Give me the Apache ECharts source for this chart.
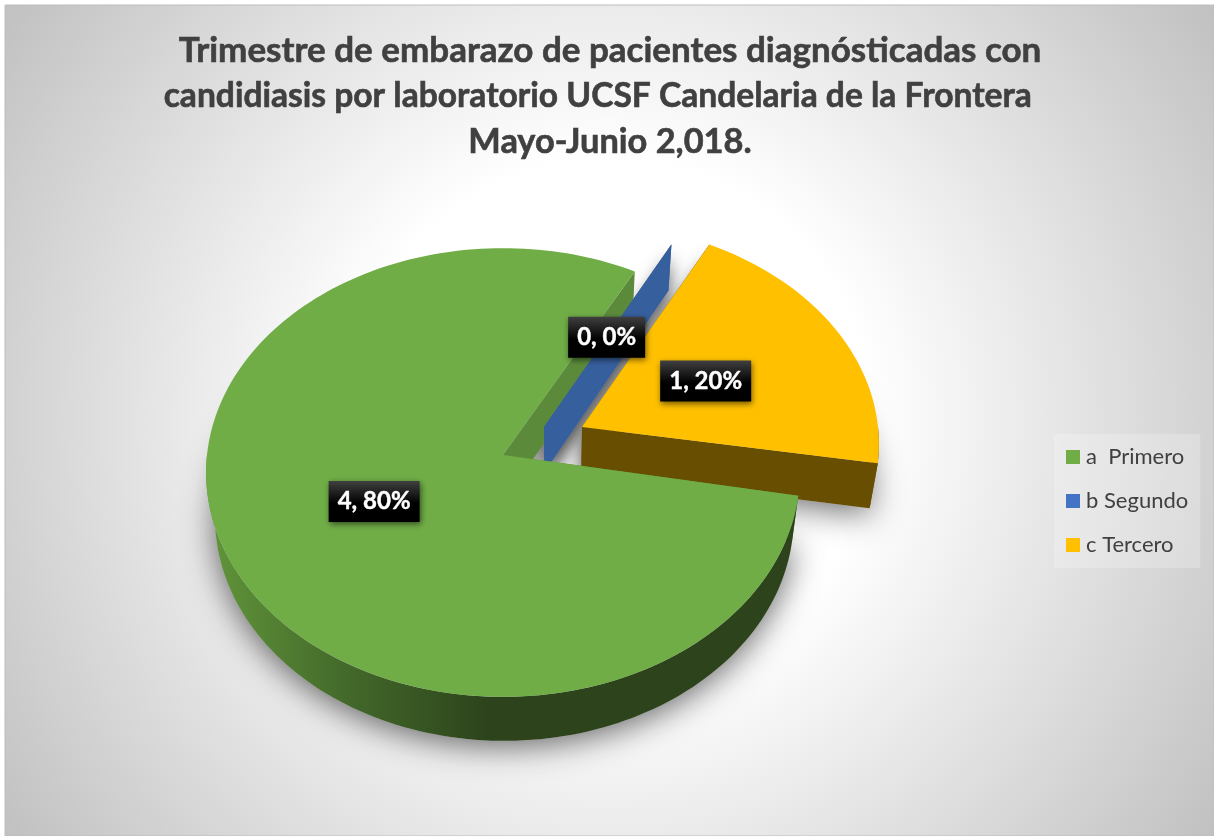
<!DOCTYPE html>
<html>
<head>
<meta charset="utf-8">
<style>html,body{margin:0;padding:0;background:#fff}#chart{width:1214px;height:836px}</style>
<script src="https://cdn.jsdelivr.net/npm/echarts@6/dist/echarts.min.js"></script>
</head>
<body>
<div id="chart"></div>
<script>
const titleLines = [
  'Trimestre de embarazo de pacientes diagnósticadas con',
  'candidiasis por laboratorio UCSF Candelaria de la Frontera   ',
  'Mayo-Junio 2,018.'
];
const categories = ['a  Primero', 'b Segundo', 'c Tercero'];
const values = [4, 0, 1];

// Face and wall colours per slice
const faceColors = ['#70AD47', '#4472C4', '#FFC000'];
const wallColors = ['#5B8B3A', '#365F9E', '#674E00'];

// Where each exploded slice sits on the page (apex of its wedge), with a small per-slice adjustment
const sliceLayout = [
  { apex: [503, 455], turn: 0.4, depth: 1 },
  { apex: [544, 427], turn: -0.6, depth: 0.985 },
  { apex: [582, 427], turn: -0.6, depth: 0.985 }
];

const FIRST_ANGLE = 100;      // clockwise from 12 o'clock
const RADIUS_X = 296, RADIUS_Y = 223, PERSPECTIVE = 0.078;
const THICKNESS = 46, CONVERGE = 0.0254, VANISH_X = 555;
const LABEL_RADIUS = 0.475;
const FONT = 'Lato, "Open Sans", sans-serif';

const total = values.reduce((a, b) => a + b, 0);
const startAngles = [];
values.reduce((acc, v, i) => { startAngles[i] = acc; return acc + v / total * 360; }, FIRST_ANGLE);

// Tilted disc with mild perspective: nearer points spread further
function project(i, deg, r, down) {
  const L = sliceLayout[i];
  const t = (deg + L.turn) * Math.PI / 180;
  const X = Math.sin(t) * r, Y = -Math.cos(t) * r;
  const s = 1 / (1 - PERSPECTIVE * Y);
  let x = L.apex[0] + RADIUS_X * X * s;
  let y = L.apex[1] + RADIUS_Y * L.depth * Y * s;
  if (down) {
    const h = THICKNESS - 2 * (y - 246) / 450;
    x -= CONVERGE * (x - VANISH_X);
    y += h;
  }
  return [x, y];
}

function arc(i, from, to, down) {
  const pts = [];
  const n = Math.max(1, Math.ceil(Math.abs(to - from) / 1.5));
  for (let k = 0; k <= n; k++) pts.push(project(i, from + (to - from) * k / n, 1, down));
  return pts;
}

const textMeasure = document.createElement('canvas').getContext('2d');
textMeasure.font = 'bold 24px ' + FONT;

function poly(points, fill, z2, extra) {
  return { type: 'polygon', z2, shape: { points }, style: Object.assign({ fill }, extra || {}) };
}

function renderSlice(params, api) {
  const i = params.seriesIndex;
  const value = api.value(0);
  const a0 = startAngles[i] % 360;
  const a1 = a0 + value / total * 360;
  const apexTop = project(i, a0, 0, false);
  const apexLow = project(i, a0, 0, true);
  const topArc = arc(i, a0, a1, false);
  const lowArc = arc(i, a0, a1, true);
  const isGreen = i === 0, isBlue = i === 1;
  const base = isGreen ? 50 : (isBlue ? 30 : 10);
  const shadow = {
    shadowBlur: 32, shadowColor: 'rgba(0,0,0,0.58)', shadowOffsetX: 0, shadowOffsetY: 6
  };
  const gapShadow = {
    shadowBlur: 16, shadowColor: 'rgba(0,0,0,0.62)', shadowOffsetX: 0, shadowOffsetY: 12
  };
  const children = [];

  // radial walls
  const endWall = [apexTop, topArc[topArc.length - 1], lowArc[lowArc.length - 1], apexLow];
  const startWall = [apexTop, topArc[0], lowArc[0], apexLow];

  // soft drop shadow underneath the slice; the walls facing the gap cast a tighter one
  if (!isBlue) children.push(poly([apexLow].concat(lowArc), '#c4c4c4', 1, shadow));
  if (!isGreen) children.push(poly(startWall, '#c4c4c4', 1, gapShadow));

  children.push(poly(endWall, wallColors[i], isGreen ? 20 : base));
  children.push(poly(startWall, wallColors[i], base));

  if (!isBlue) {
    // curved outer wall, front half only; the lit side fades into shade on the green slice
    const wallFill = isGreen
      ? { type: 'linear', x: 216, y: 0, x2: 490, y2: 0, global: true,
          colorStops: [{ offset: 0, color: '#5F9339' }, { offset: 0.5, color: '#42672A' }, { offset: 1, color: '#2C431B' }] }
      : wallColors[i];
    const from = Math.max(a0, 90), to = Math.min(a1, 270);
    children.push(poly(arc(i, from, to, false).concat(arc(i, from, to, true).reverse()), wallFill, base + 1));
    children.push(poly([apexTop].concat(topArc), faceColors[i], base + 2));
  }

  // value label
  const mid = (a0 + a1) / 2;
  const c = project(i, mid, LABEL_RADIUS, false);
  const text = value + ', ' + Math.round(value / total * 100) + '%';
  const w = Math.round(textMeasure.measureText(text).width) + 18, h = 41;
  const x = c[0] - w / 2, y = c[1] - h / 2;
  children.push({
    type: 'rect', z2: 100, shape: { x, y, width: w, height: h },
    style: {
      fill: { type: 'linear', x: 0, y: 0, x2: 0, y2: 1,
        colorStops: [{ offset: 0, color: '#404040' }, { offset: 0.55, color: '#000000' }, { offset: 1, color: '#000000' }] },
      shadowBlur: 6, shadowColor: 'rgba(0,0,0,0.55)', shadowOffsetX: 1, shadowOffsetY: 2
    }
  });
  children.push({
    type: 'text', z2: 101, style: {
      text, x: c[0], y: c[1], align: 'center', verticalAlign: 'middle',
      fill: '#fff', font: 'bold 24px ' + FONT, stroke: '#fff', lineWidth: 0.4
    }
  });
  return { type: 'group', children };
}

const titleLine = {
  fontFamily: FONT, fontWeight: 'bold', lineHeight: 45.5, color: '#404040',
  textBorderColor: '#404040', textBorderWidth: 0.6
};

const chart = echarts.init(document.getElementById('chart'), null, { renderer: 'canvas' });
chart.setOption({
  animation: false,
  graphic: [{
    type: 'rect', z: 0,
    shape: { x: 5, y: 5, width: 1209, height: 831 },
    style: {
      fill: { type: 'radial', x: 0.5, y: 0.5, r: 0.87,
        colorStops: [{ offset: 0, color: '#ffffff' }, { offset: 0.36, color: '#ffffff' }, { offset: 1, color: '#c2c2c2' }] },
      stroke: '#bdbdbd', lineWidth: 1
    }
  }],
  title: {
    text: '{l1|' + titleLines[0] + '}\n{l2|' + titleLines[1] + '}\n{l3|' + titleLines[2] + '}',
    left: 610, top: 28, textAlign: 'center', padding: 0,
    textStyle: {
      align: 'center',
      rich: {
        l1: Object.assign({ fontSize: 35 }, titleLine),
        l2: Object.assign({ fontSize: 33.6 }, titleLine),
        l3: Object.assign({ fontSize: 34.4 }, titleLine)
      }
    }
  },
  legend: {
    orient: 'vertical', left: 1054, top: 434,
    padding: [12, 12, 12, 12], itemGap: 22,
    itemWidth: 14, itemHeight: 14, icon: 'rect',
    backgroundColor: 'rgba(255,255,255,0.22)', borderRadius: 0,
    selectedMode: false,
    textStyle: { fontFamily: FONT, fontSize: 22, color: '#404040', padding: [0, 0, 0, 1] },
    data: categories
  },
  series: categories.map((name, i) => ({
    type: 'custom', name, coordinateSystem: 'none',
    itemStyle: { color: faceColors[i] },
    renderItem: renderSlice,
    data: [[values[i]]]
  }))
});
</script>
</body>
</html>
